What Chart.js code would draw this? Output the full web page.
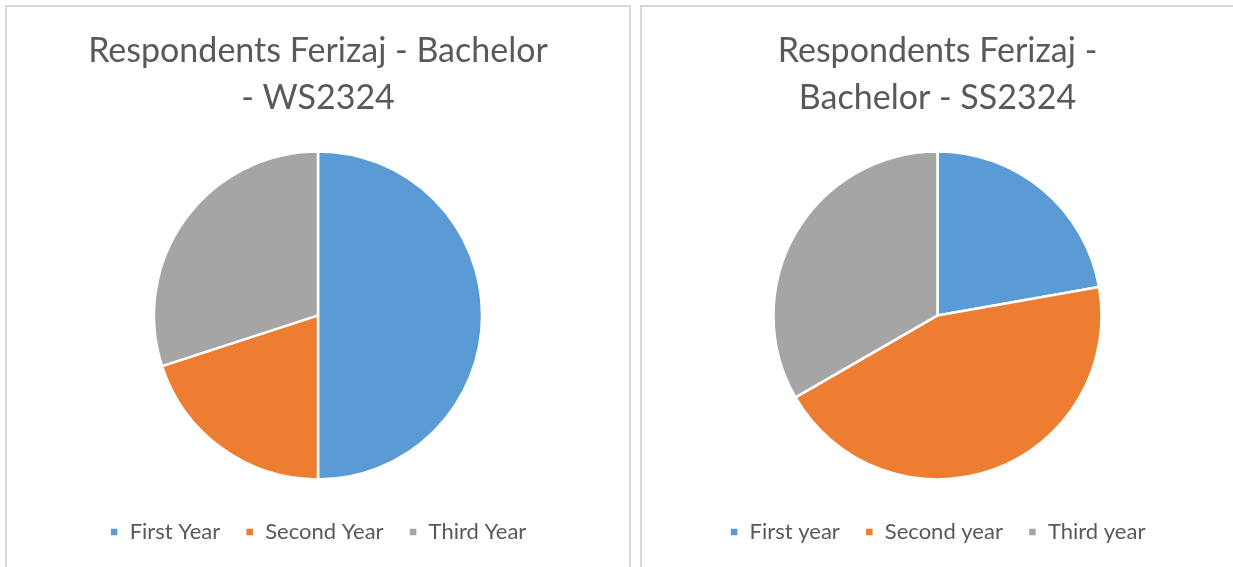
<!DOCTYPE html>
<html>
<head>
<meta charset="utf-8">
<script src="https://cdn.jsdelivr.net/npm/chart.js@4.4.0/dist/chart.umd.min.js"></script>
<style>
  html, body { margin: 0; padding: 0; background: #fff; overflow: hidden; }
  body { width: 1233px; height: 567px; position: relative; }
  .panel { position: absolute; top: 5px; height: 620px; border: 2px solid #d9d9d9; box-sizing: border-box; background: #fff; }
  #p1 { left: 5px; width: 626px; }
  #p2 { left: 640px; width: 595px; }
  .wrap { position: absolute; left: 0; right: 0; top: 0; height: 600px; }
</style>
</head>
<body>
<div class="panel" id="p1"><div class="wrap"><canvas id="c1"></canvas></div></div>
<div class="panel" id="p2"><div class="wrap"><canvas id="c2"></canvas></div></div>
<script>
const titleLeft = ["Respondents Ferizaj - Bachelor", "- WS2324"];
const titleRight = ["Respondents Ferizaj -", "Bachelor - SS2324"];
const labelsLeft = ["First Year", "Second Year", "Third Year"];
const labelsRight = ["First year", "Second year", "Third year"];
const valuesLeft = [10, 4, 6];
const valuesRight = [2, 4, 3];
const colors = ["#5B9BD5", "#ED7D31", "#A5A5A5"];

const FONT = "Lato, 'Open Sans', sans-serif";

function makeChart(id, title, labels, values) {
  return new Chart(document.getElementById(id), {
    type: 'pie',
    data: {
      labels: labels,
      datasets: [{
        data: values,
        backgroundColor: colors,
        borderColor: '#ffffff',
        borderWidth: 2.5
      }]
    },
    options: {
      responsive: true,
      maintainAspectRatio: false,
      animation: false,
      radius: 164,
      layout: { padding: { top: 21, bottom: 54, left: 0, right: 0 } },
      plugins: {
        title: {
          display: true,
          text: title,
          color: '#595959',
          font: { family: FONT, size: 34, weight: 'normal', lineHeight: 1.38 },
          padding: { top: 0, bottom: 13 }
        },
        legend: {
          position: 'bottom',
          labels: {
            color: '#595959',
            font: { family: FONT, size: 22 },
            usePointStyle: true,
            pointStyle: 'rect',
            boxWidth: 9,
            boxHeight: 9,
            padding: 25
          }
        },
        tooltip: { enabled: false }
      }
    }
  });
}
makeChart('c1', titleLeft, labelsLeft, valuesLeft);
makeChart('c2', titleRight, labelsRight, valuesRight);
</script>
</body>
</html>
